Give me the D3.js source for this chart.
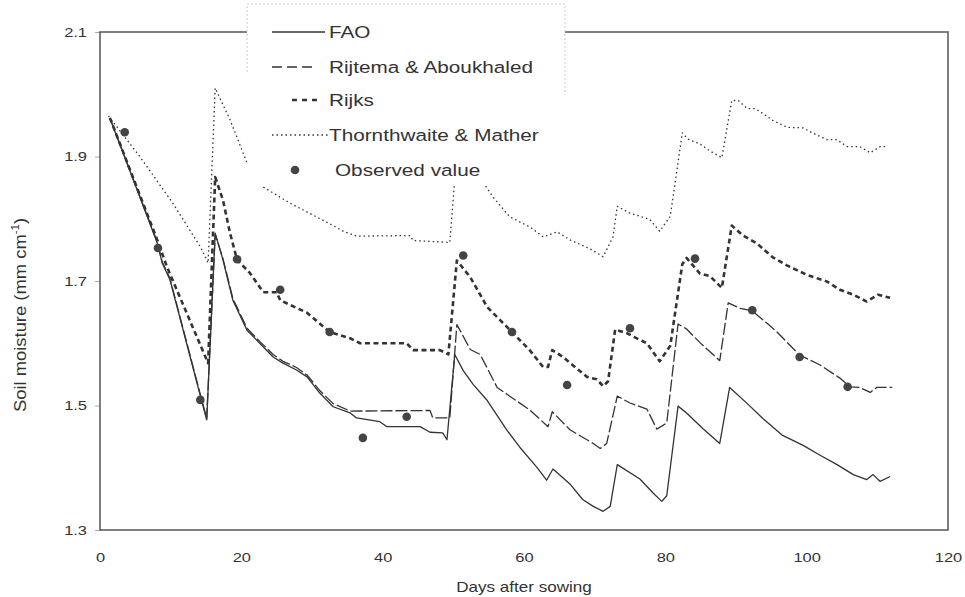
<!DOCTYPE html>
<html><head><meta charset="utf-8">
<script src="https://cdn.jsdelivr.net/npm/d3@7"></script>
<style>
body{margin:0;background:#fff}
text{font-family:"Liberation Sans",Arial,Helvetica,sans-serif;fill:#333}
</style>
</head><body>
<svg id="c" width="965" height="597"></svg>
<script>
// ---- data ----
const xTicks = [0, 20, 40, 60, 80, 100, 120];
const yTicks = [1.3, 1.5, 1.7, 1.9, 2.1];
const seriesNames = ["FAO", "Rijtema & Aboukhaled", "Rijks", "Thornthwaite & Mather", "Observed value"];

const faoDays = [1.4,8.1,8.8,9.9,14.1,15.1,16.3,17.4,18.8,20.8,22.6,24.5,25.9,27.8,29.3,31.1,33.0,35.4,36.3,39.6,40.6,45.3,46.7,48.5,49.1,50.2,51.4,52.8,54.8,57.6,59.4,61.8,63.2,64.1,66.5,68.3,69.8,71.2,72.2,73.2,76.4,78.3,79.5,80.2,81.8,83.0,85.3,87.7,89.1,91.6,93.8,96.6,99.5,101.9,104.3,106.6,108.5,109.4,110.4,111.8];
const faoValues = [1.962,1.761,1.729,1.702,1.520,1.477,1.777,1.734,1.669,1.621,1.600,1.578,1.568,1.557,1.546,1.520,1.498,1.488,1.480,1.474,1.466,1.466,1.457,1.456,1.445,1.582,1.556,1.534,1.508,1.460,1.433,1.401,1.380,1.398,1.374,1.349,1.338,1.330,1.338,1.405,1.382,1.359,1.346,1.355,1.499,1.488,1.463,1.439,1.529,1.503,1.479,1.452,1.436,1.420,1.405,1.389,1.381,1.389,1.378,1.386];

const rijtemaDays = [1.4,8.1,8.8,9.9,14.1,15.1,16.3,17.4,18.8,20.8,22.6,24.5,25.9,27.8,29.3,31.1,33.0,35.4,46.7,47.1,49.5,50.5,52.4,53.8,56.2,57.6,60.8,63.4,64.0,66.5,69.8,70.8,71.7,73.2,75.0,77.4,78.8,80.2,81.8,83.0,84.9,87.7,88.9,90.6,92.3,94.4,95.8,99.0,101.9,104.7,106.1,107.5,109.0,109.9,112.1];
const rijtemaValues = [1.962,1.763,1.731,1.704,1.522,1.479,1.775,1.736,1.672,1.624,1.603,1.582,1.571,1.561,1.549,1.524,1.503,1.491,1.492,1.480,1.480,1.630,1.590,1.582,1.529,1.518,1.493,1.466,1.490,1.461,1.439,1.431,1.439,1.515,1.504,1.494,1.462,1.472,1.631,1.623,1.601,1.572,1.665,1.656,1.652,1.632,1.618,1.581,1.565,1.544,1.530,1.529,1.521,1.529,1.529];

const rijksDays = [1.4,8.1,9.5,15.3,16.3,17.4,18.4,19.4,21.2,23.1,25.0,25.5,29.3,32.5,35.4,36.8,43.4,44.3,48.1,49.3,50.5,52.4,54.8,56.2,58.3,60.8,62.7,63.4,64.0,65.5,68.9,70.3,71.2,71.9,72.9,74.6,75.4,77.4,79.2,80.7,82.4,83.0,84.9,86.3,88.0,89.4,91.0,93.0,95.2,97.2,100.0,102.9,104.7,106.6,108.5,110.1,111.8];
const rijksValues = [1.962,1.766,1.722,1.568,1.867,1.830,1.777,1.734,1.713,1.682,1.682,1.669,1.649,1.618,1.608,1.600,1.600,1.589,1.589,1.582,1.733,1.706,1.658,1.642,1.618,1.589,1.562,1.562,1.589,1.578,1.546,1.542,1.531,1.539,1.622,1.616,1.611,1.600,1.571,1.596,1.727,1.737,1.712,1.708,1.689,1.789,1.773,1.760,1.738,1.725,1.710,1.699,1.686,1.678,1.667,1.678,1.673];

const thornDays = [1.2,5.7,10.3,14.2,15.3,16.3,18.4,20.8,23.1,26.9,32.5,34.4,36.4,43.9,44.3,49.5,50.6,55.6,58.0,60.8,62.7,64.7,66.5,69.3,71.2,72.6,73.2,75.0,77.8,79.2,80.7,82.4,83.2,84.9,86.3,88.0,89.4,90.3,91.6,92.7,93.8,95.2,97.2,99.5,100.8,102.9,104.3,105.7,107.5,109.0,110.4,111.4];
const thornValues = [1.965,1.899,1.825,1.755,1.729,2.010,1.959,1.890,1.851,1.825,1.792,1.780,1.772,1.773,1.765,1.762,1.920,1.835,1.803,1.787,1.771,1.779,1.766,1.752,1.739,1.771,1.820,1.809,1.799,1.780,1.804,1.938,1.928,1.920,1.909,1.898,1.990,1.990,1.977,1.977,1.969,1.958,1.947,1.946,1.938,1.927,1.927,1.916,1.916,1.906,1.916,1.916];

const obsDays = [3.5,8.2,14.2,19.4,25.5,32.5,37.2,43.4,51.4,58.3,66.1,75.0,84.2,92.3,99.0,105.8];
const obsValues = [1.939,1.753,1.509,1.735,1.686,1.618,1.448,1.482,1.741,1.618,1.533,1.624,1.736,1.653,1.578,1.530];

// ---- drawing ----
const SX = 1.22; // horizontal text stretch of the scanned figure
const ink = "#333";
const svg = d3.select("#c");
const x = d3.scaleLinear().domain([0, 120]).range([100, 948]);
const y = d3.scaleLinear().domain([1.3, 2.1]).range([530, 32]);

// axes
const gx = svg.append("g").attr("transform", "translate(0,530)")
  .call(d3.axisBottom(x).tickValues(xTicks).tickSize(0).tickPadding(22).tickFormat(d3.format("d")));
gx.select(".domain").remove();
gx.selectAll("text").attr("font-size", 13.5).attr("transform", `scale(${SX},1)`);

const gy = svg.append("g").attr("transform", "translate(100,0)")
  .call(d3.axisLeft(y).tickValues(yTicks).tickSize(5).tickPadding(8).tickFormat(d3.format(".1f")));
gy.select(".domain").remove();
gy.selectAll("line").attr("stroke", "#aaa");
gy.selectAll("text").attr("font-size", 13.5).attr("x", -13 / SX).attr("transform", `scale(${SX},1)`);

// frame
svg.append("rect").attr("x", x(0)).attr("y", y(2.1))
  .attr("width", x(120) - x(0)).attr("height", y(1.3) - y(2.1))
  .attr("fill", "none").attr("stroke", "#555").attr("stroke-width", 1.5);

// axis titles
svg.append("text").attr("transform", `translate(${(x(0) + x(120)) / 2},592) scale(${SX},1)`)
  .attr("text-anchor", "middle").attr("font-size", 14).text("Days after sowing");
const yt = svg.append("text").attr("transform", "translate(26,315) rotate(-90) scale(1.15,1)")
  .attr("text-anchor", "middle").attr("font-size", 16);
yt.append("tspan").text("Soil moisture (mm cm");
yt.append("tspan").attr("font-size", 10).attr("dy", -7).text("-1");
yt.append("tspan").attr("dy", 7).text(")");

// lines
const line = d3.line().x(d => x(d[0])).y(d => y(d[1]));
const styles = [
  {days: faoDays, vals: faoValues, w: 1.3, dash: null},
  {days: rijtemaDays, vals: rijtemaValues, w: 1.3, dash: "12,3"},
  {days: rijksDays, vals: rijksValues, w: 2.6, dash: "5,3.5"},
  {days: thornDays, vals: thornValues, w: 1.3, dash: "1.5,3"}
];
styles.forEach(s => {
  svg.append("path").datum(d3.zip(s.days, s.vals))
    .attr("d", line).attr("fill", "none").attr("stroke", ink)
    .attr("stroke-width", s.w).attr("stroke-linejoin", "round")
    .attr("stroke-dasharray", s.dash);
});

// observed points
svg.append("g").selectAll("circle").data(d3.zip(obsDays, obsValues)).join("circle")
  .attr("cx", d => x(d[0])).attr("cy", d => y(d[1])).attr("r", 4.3).attr("fill", "#444");

// legend
const lg = svg.append("g");
lg.append("rect").attr("x", 247).attr("y", 0).attr("width", 318).attr("height", 185).attr("fill", "#fff");
lg.append("path").attr("d", "M247,72V4H565V95").attr("fill", "none")
  .attr("stroke", "#ccc").attr("stroke-width", 1).attr("stroke-dasharray", "2,2");
const rows = [32, 67, 100, 135, 170];
const samples = [
  {x1: 272, x2: 325, w: 1.3, dash: null},
  {x1: 272, x2: 315, w: 1.3, dash: "10,5"},
  {x1: 292, x2: 318, w: 2.6, dash: "5,5"},
  {x1: 272, x2: 328, w: 1.3, dash: "1.5,3"}
];
samples.forEach((s, i) => {
  lg.append("line").attr("x1", s.x1).attr("x2", s.x2).attr("y1", rows[i]).attr("y2", rows[i])
    .attr("stroke", ink).attr("stroke-width", s.w).attr("stroke-dasharray", s.dash);
});
lg.append("circle").attr("cx", 295).attr("cy", rows[4]).attr("r", 4.3).attr("fill", "#444");
seriesNames.forEach((n, i) => {
  lg.append("text").attr("transform", `translate(${i === 4 ? 335 : 329},${rows[i] + 6}) scale(${SX},1)`)
    .attr("font-size", 17).text(n);
});
</script>
</body></html>
